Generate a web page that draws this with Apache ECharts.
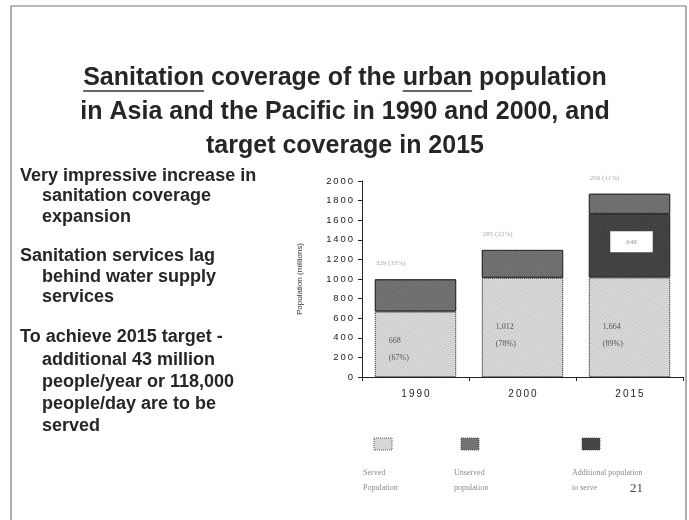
<!DOCTYPE html>
<html>
<head>
<meta charset="utf-8">
<script src="https://cdn.jsdelivr.net/npm/echarts@6/dist/echarts.min.js"></script>
<style>
  html, body { margin: 0; padding: 0; background: #fff; }
  #chart { width: 689px; height: 520px; }
</style>
</head>
<body>
<div id="chart"></div>
<script>
// Urban population (millions) by sanitation status
const years = ['1990', '2000', '2015'];
const servedBase = [668, 1012, 1016];      // population already served
const additional = [null, null, 648];      // extra population to serve by 2015
const unserved = [329, 285, 206];          // population without service
const yTicks = [0, 200, 400, 600, 800, 1000, 1200, 1400, 1600, 1800, 2000];

const legendNames = [['Served', 'Population'], ['Unserved', 'population'], ['Additional population', 'to serve']];
const titleLines = [
  'Sanitation coverage of the urban population',
  'in Asia and the Pacific in 1990 and 2000, and',
  'target coverage in 2015'
];
const notes = [
  ['Very impressive increase in', 'sanitation coverage', 'expansion'],
  ['Sanitation services lag', 'behind water supply', 'services'],
  ['To achieve 2015 target -', 'additional 43 million', 'people/year or 118,000', 'people/day are to be', 'served']
];
const pageNumber = '21';

const servedTotal = servedBase.map((v, i) => v + (additional[i] || 0));
const grandTotal = servedTotal.map((v, i) => v + unserved[i]);
const pct = (v, i) => Math.round(v / grandTotal[i] * 100) + '%';
const fmt = v => v >= 1000 ? Math.floor(v / 1000) + ',' + String(v % 1000).padStart(3, '0') : String(v);
const spaced = s => String(s).split('').join('\u2009');

const colServed = '#d7d7d7', colUnserved = '#737373', colAdd = '#444444';
const stipple = c => ({ symbol: 'rect', symbolSize: 1, color: c, dashArrayX: [1, 2], dashArrayY: [1, 2], rotation: 0.6 });

// title text with underlined words
const TITLE_FONT = 'bold 25px "Liberation Sans", Arial, sans-serif';
const NOTE_FONT = 'bold 18px "Liberation Sans", Arial, sans-serif';
const cv = document.createElement('canvas').getContext('2d');
cv.font = TITLE_FONT;
const tw = s => cv.measureText(s).width;
const cx = 345;
const l1 = titleLines[0];
const l1Start = cx - tw(l1) / 2;
const ulY = 91;
const underlines = [['Sanitation', 0], ['urban', l1.indexOf('urban')]].map(([word, idx]) => {
  const x0 = l1Start + tw(l1.slice(0, idx));
  return { type: 'line', shape: { x1: x0, y1: ulY, x2: x0 + tw(word), y2: ulY }, style: { stroke: '#333', lineWidth: 1.5 } };
});

const graphics = [];
// slide frame
graphics.push({ type: 'polyline', shape: { points: [[11, 530], [11, 6], [686, 6], [686, 530]] }, style: { stroke: '#777', lineWidth: 1.2, fill: null } });
titleLines.forEach((t, i) => {
  graphics.push({ type: 'text', x: cx, y: 78 + i * 34, style: { text: t, font: TITLE_FONT, fill: '#262626', align: 'center', verticalAlign: 'middle' } });
});
graphics.push(...underlines);

// bullet notes
let ny = 176;
notes.forEach((block, b) => {
  block.forEach((line, j) => {
    graphics.push({ type: 'text', x: j === 0 ? 20 : 42, y: ny, style: { text: line, font: NOTE_FONT, fill: '#262626', verticalAlign: 'middle' } });
    ny += (b === 2 && j > 0) ? 22 : (j === 0 && b === 2 ? 23.5 : 20.5);
  });
  ny += 19;
});

// legend
const swatchX = [374, 461, 582];
const textX = [363, 454, 572];
const swatchCols = [colServed, colUnserved, colAdd];
legendNames.forEach((n, i) => {
  graphics.push({ type: 'rect', shape: { x: swatchX[i], y: 438, width: 18, height: 12 }, style: { fill: swatchCols[i], stroke: '#555', lineWidth: 1, lineDash: [1, 1] } });
  n.forEach((t, j) => {
    graphics.push({ type: 'text', x: textX[i], y: 473 + j * 15, style: { text: t, font: '8px "Liberation Serif", serif', fill: '#8a8a8a', verticalAlign: 'middle' } });
  });
});
graphics.push({ type: 'text', x: 630, y: 489, style: { text: pageNumber, font: '13px "Liberation Serif", serif', fill: '#444', verticalAlign: 'middle' } });

const chart = echarts.init(document.getElementById('chart'), null, { renderer: 'canvas' });
chart.setOption({
  animation: false,
  backgroundColor: '#fff',
  grid: { left: 362, right: 6, top: 181, bottom: 143 },
  xAxis: {
    type: 'category',
    data: years,
    axisLine: { lineStyle: { color: '#222', width: 1 } },
    axisTick: { show: true, length: 4, lineStyle: { color: '#222' } },
    axisLabel: { formatter: v => spaced(v), fontSize: 10, color: '#222', margin: 12, fontFamily: '"Liberation Sans", Arial' }
  },
  yAxis: {
    type: 'value',
    min: yTicks[0],
    max: yTicks[yTicks.length - 1],
    interval: yTicks[1] - yTicks[0],
    name: 'Population (millions)',
    nameLocation: 'middle',
    nameGap: 58,
    nameRotate: 90,
    nameTextStyle: { fontSize: 8, color: '#333', fontFamily: '"Liberation Sans", Arial' },
    splitLine: { show: false },
    axisLine: { show: true, lineStyle: { color: '#222', width: 1 } },
    axisTick: { show: true, length: 4, lineStyle: { color: '#222' } },
    axisLabel: { formatter: v => spaced(v), fontSize: 9.5, color: '#222', margin: 9, fontFamily: '"Liberation Sans", Arial' }
  },
  series: [
    {
      name: 'Served', type: 'bar', stack: 'pop', barWidth: '76%',
      data: servedBase,
      itemStyle: { color: colServed, borderColor: '#555', borderWidth: 1, borderType: 'dotted', decal: stipple('rgba(120,120,120,0.35)') },
      label: {
        show: true, position: [14, '58%'], align: 'left', verticalAlign: 'middle', lineHeight: 17,
        fontSize: 8, color: '#555', fontFamily: '"Liberation Serif", serif',
        formatter: p => fmt(servedTotal[p.dataIndex]) + '\n(' + pct(servedTotal[p.dataIndex], p.dataIndex) + ')'
      }
    },
    {
      name: 'Additional population to serve', type: 'bar', stack: 'pop',
      data: additional,
      itemStyle: { color: colAdd, borderColor: '#333', borderWidth: 1, decal: stipple('rgba(20,20,20,0.45)') },
      label: {
        show: true, position: 'inside', offset: [2, -4], fontSize: 7, color: '#999',
        backgroundColor: '#fff', padding: [7, 16], fontFamily: '"Liberation Serif", serif',
        formatter: p => fmt(p.value)
      }
    },
    {
      name: 'Unserved population', type: 'bar', stack: 'pop',
      data: unserved,
      itemStyle: { color: colUnserved, borderColor: '#333', borderWidth: 1, decal: stipple('rgba(40,40,40,0.4)') },
      label: {
        show: true, position: [1, -16], align: 'left', verticalAlign: 'middle',
        fontSize: 7, color: '#aaa', fontFamily: '"Liberation Serif", serif',
        formatter: p => fmt(p.value) + ' (' + pct(p.value, p.dataIndex) + ')'
      }
    }
  ],
  graphic: graphics
});
</script>
</body>
</html>
